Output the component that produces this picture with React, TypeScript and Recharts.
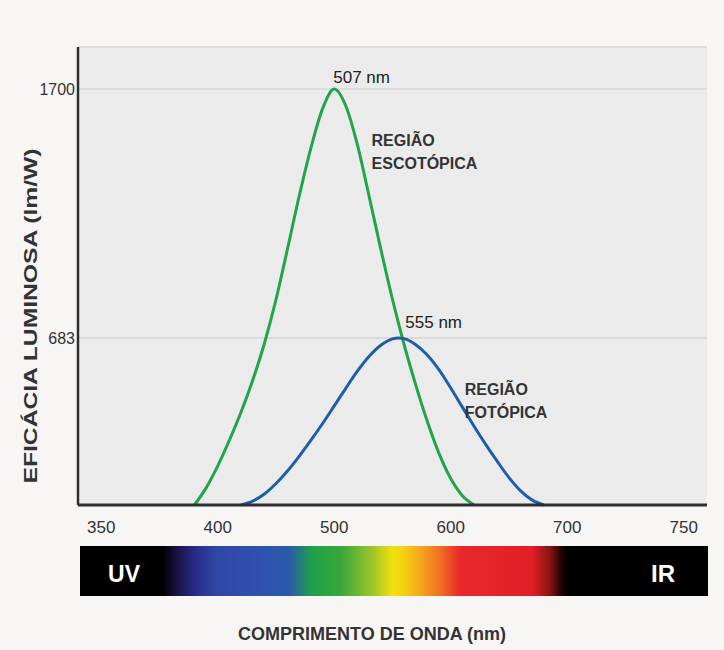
import React from 'react';
import { LineChart, Line, XAxis, YAxis, CartesianGrid, ReferenceDot } from 'recharts';

// wavelength samples (nm)
const wavelengths = [380, 390, 400, 410, 420, 430, 440, 450, 460, 470, 480, 490, 500, 510, 520, 530, 540, 550, 555, 560, 570, 580, 590, 600, 610, 620, 630, 640, 650, 660, 670, 680];
const escotopica = [0, 70, 160, 265, 380, 510, 660, 840, 1050, 1265, 1460, 1620, 1700, 1630, 1470, 1260, 1045, 840, 745, 655, 490, 340, 210, 108, 38, 0, null, null, null, null, null, null];
const fotopica = [null, null, null, null, 0, 16, 45, 88, 140, 200, 265, 333, 405, 478, 548, 608, 653, 679, 683, 680, 655, 612, 552, 478, 400, 322, 248, 178, 112, 58, 20, 0];

const xTickValues = [300, 400, 500, 600, 700, 800];
const xTickLabels = ['350', '400', '500', '600', '700', '750'];
const yTicks = [683, 1700];

const data = wavelengths.map((w, i) => ({ w, escotopica: escotopica[i], fotopica: fotopica[i] }));

const ff = '"Liberation Sans", Arial, sans-serif';

const XTick = (props: any) => {
  const { x, y, payload } = props;
  const i = xTickValues.indexOf(payload.value);
  return (
    <text x={x} y={y + 28} textAnchor="middle" fontSize={17} fill="#333" fontFamily={ff}>
      {xTickLabels[i]}
    </text>
  );
};

const YTick = (props: any) => {
  const { x, y, payload } = props;
  return (
    <text x={x - 3} y={y + 6} textAnchor="end" fontSize={16} fill="#333" fontFamily={ff}>
      {payload.value}
    </text>
  );
};

const label = (lines: string[]) => (p: any) => (
  <g>
    {lines.map((t, i) => (
      <text key={t} x={p.cx} y={p.cy + i * 23} fontSize={16} fontWeight="bold" fill="#333" fontFamily={ff}>
        {t}
      </text>
    ))}
  </g>
);

const Spectrum = () => (
  <svg width={724} height={650} style={{ position: 'absolute', left: 0, top: 0 }}>
    <defs>
      <linearGradient id="spec" x1="0" x2="1" y1="0" y2="0">
        <stop offset="0" stopColor="#000" />
        <stop offset="0.132" stopColor="#000" />
        <stop offset="0.151" stopColor="#180f3a" />
        <stop offset="0.186" stopColor="#2a2d8c" />
        <stop offset="0.218" stopColor="#2f47a6" />
        <stop offset="0.29" stopColor="#2f52ae" />
        <stop offset="0.333" stopColor="#2b5aaa" />
        <stop offset="0.369" stopColor="#1ea04a" />
        <stop offset="0.417" stopColor="#3aa83a" />
        <stop offset="0.465" stopColor="#9cc42a" />
        <stop offset="0.497" stopColor="#f0e010" />
        <stop offset="0.513" stopColor="#f5d50f" />
        <stop offset="0.545" stopColor="#f4a21f" />
        <stop offset="0.576" stopColor="#ef6a24" />
        <stop offset="0.605" stopColor="#e8282b" />
        <stop offset="0.72" stopColor="#e21e26" />
        <stop offset="0.748" stopColor="#8a1414" />
        <stop offset="0.768" stopColor="#1a0202" />
        <stop offset="0.777" stopColor="#000" />
        <stop offset="1" stopColor="#000" />
      </linearGradient>
    </defs>
    <rect x={80} y={546} width={628} height={50} fill="url(#spec)" />
    <text x={124} y={582} textAnchor="middle" fontSize={23} fontWeight="bold" fill="#fff" fontFamily={ff}>UV</text>
    <text x={663} y={582} textAnchor="middle" fontSize={24} fontWeight="bold" fill="#fff" fontFamily={ff}>IR</text>
    <text x={372} y={640} textAnchor="middle" fontSize={18} fontWeight="bold" fill="#333" fontFamily={ff}>
      COMPRIMENTO DE ONDA (nm)
    </text>
    <text
      transform="translate(37,316) rotate(-90)"
      textAnchor="middle"
      fontSize={18}
      fontWeight="bold"
      fill="#333"
      fontFamily={ff}
      textLength={335}
      lengthAdjust="spacingAndGlyphs"
    >
      EFICÁCIA LUMINOSA (lm/W)
    </text>
  </svg>
);

const App = () => {
  return (
    <div style={{ position: 'absolute', left: 0, top: 0, width: 724, height: 650, background: '#f8f5f5' }}>
      <Spectrum />
      <div style={{ position: 'absolute', left: 0, top: 0 }}>
        <LineChart width={724} height={650} data={data} margin={{ top: 47, right: 17, bottom: 115, left: 48 }}>
          <CartesianGrid vertical={false} fill="#ebebeb" stroke="#d6d6d6" strokeWidth={1.5} />
          <XAxis
            dataKey="w"
            type="number"
            domain={[280, 820]}
            ticks={xTickValues}
            interval={0}
            height={30}
            tickSize={0}
            tickMargin={0}
            tickLine={false}
            tick={<XTick />}
            axisLine={{ stroke: '#2f2f2f', strokeWidth: 3 }}
          />
          <YAxis
            type="number"
            domain={[0, 1872]}
            ticks={yTicks}
            interval={0}
            width={30}
            tickSize={0}
            tickMargin={0}
            tickLine={false}
            tick={<YTick />}
            axisLine={{ stroke: '#2f2f2f', strokeWidth: 2.5 }}
          />
          <Line type="monotone" dataKey="escotopica" stroke="#22a54a" strokeWidth={3} dot={false} isAnimationActive={false} />
          <Line type="monotone" dataKey="fotopica" stroke="#1f5dab" strokeWidth={3} dot={false} isAnimationActive={false} />
          <ReferenceDot
            x={500}
            y={1700}
            r={0}
            shape={(p: any) => (
              <text x={p.cx - 1} y={p.cy - 6} fontSize={17} fill="#222" fontFamily={ff}>507 nm</text>
            )}
          />
          <ReferenceDot
            x={555}
            y={683}
            r={0}
            shape={(p: any) => (
              <text x={p.cx + 7} y={p.cy - 10} fontSize={17} fill="#222" fontFamily={ff}>555 nm</text>
            )}
          />
          <ReferenceDot x={532} y={1467} r={0} shape={label(['REGIÃO', 'ESCOTÓPICA'])} />
          <ReferenceDot x={612} y={450} r={0} shape={label(['REGIÃO', 'FOTÓPICA'])} />
        </LineChart>
      </div>
    </div>
  );
};

export default App;
